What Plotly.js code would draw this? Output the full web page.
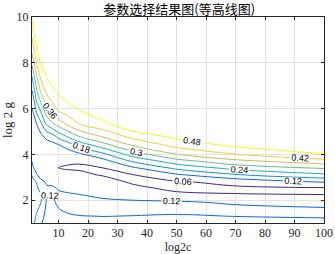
<!DOCTYPE html>
<html>
<head>
<meta charset="utf-8">
<script src="https://cdn.plot.ly/plotly-3.0.1.min.js"></script>
<style>html,body{margin:0;padding:0;background:#fff;}#chart{width:335px;height:254px;}</style>
</head>
<body>
<div id="chart"></div>
<script>
// log2c grid (columns) and log2g grid (rows)
const log2c = [1, 1.5, 2.5, 4, 6, 8, 10, 13, 17, 25, 35, 50, 70, 100];
const log2g = [1, 1.3, 1.6, 1.9, 2.2, 2.5, 2.8, 3.1, 3.4, 3.7, 4.0, 4.4, 4.8, 5.3, 5.9, 6.6, 7.4, 8.3, 9.2, 10];

// z values read column by column (one array per log2c value, along log2g)
const zC1   = [0.2, 0.2, 0.205, 0.21, 0.21, 0.21, 0.2, 0.178, 0.145, 0.118, 0.105, 0.095, 0.095, 0.1, 0.115, 0.16, 0.24, 0.35, 0.43, 0.485];
const zC1_5 = [0.19, 0.195, 0.2, 0.205, 0.205, 0.2, 0.19, 0.165, 0.122, 0.105, 0.095, 0.09, 0.09, 0.097, 0.125, 0.19, 0.28, 0.38, 0.465, 0.53];
const zC2_5 = [0.16, 0.175, 0.19, 0.195, 0.195, 0.19, 0.178, 0.125, 0.105, 0.095, 0.09, 0.087, 0.093, 0.115, 0.19, 0.27, 0.35, 0.45, 0.52, 0.57];
const zC4   = [0.125, 0.14, 0.16, 0.182, 0.183, 0.165, 0.13, 0.105, 0.093, 0.087, 0.085, 0.088, 0.105, 0.165, 0.245, 0.35, 0.435, 0.51, 0.56, 0.6];
const zC6   = [0.1, 0.103, 0.107, 0.112, 0.118, 0.125, 0.115, 0.1, 0.088, 0.082, 0.08, 0.09, 0.14, 0.245, 0.34, 0.418, 0.485, 0.54, 0.58, 0.62];
const zC8   = [0.098, 0.1, 0.105, 0.112, 0.119, 0.127, 0.11, 0.09, 0.07, 0.072, 0.08, 0.1, 0.16, 0.285, 0.385, 0.455, 0.52, 0.57, 0.61, 0.64];
const zC10  = [0.1, 0.107, 0.118, 0.13, 0.128, 0.117, 0.105, 0.085, 0.059, 0.07, 0.093, 0.115, 0.204, 0.32, 0.424, 0.484, 0.54, 0.58, 0.62, 0.64];
const zC13  = [0.1, 0.112, 0.13, 0.133, 0.126, 0.112, 0.1, 0.08, 0.054, 0.068, 0.094, 0.14, 0.25, 0.363, 0.45, 0.505, 0.55, 0.6, 0.63, 0.65];
const zC17  = [0.1, 0.118, 0.138, 0.13, 0.122, 0.11, 0.095, 0.075, 0.052, 0.066, 0.108, 0.2, 0.305, 0.418, 0.478, 0.53, 0.58, 0.62, 0.65, 0.66];
const zC25  = [0.1, 0.121, 0.135, 0.127, 0.115, 0.105, 0.09, 0.055, 0.059, 0.095, 0.165, 0.274, 0.37, 0.4575, 0.53, 0.58, 0.62, 0.64, 0.66, 0.67];
const zC35  = [0.1, 0.119, 0.135, 0.128, 0.103, 0.08, 0.05, 0.057, 0.107, 0.186, 0.266, 0.364, 0.441, 0.53, 0.57, 0.6, 0.63, 0.65, 0.66, 0.67];
const zC50  = [0.1, 0.115, 0.135, 0.128, 0.0797, 0.045, 0.055, 0.11, 0.194, 0.275, 0.358, 0.44, 0.5, 0.55, 0.59, 0.62, 0.64, 0.65, 0.66, 0.67];
const zC70  = [0.1, 0.121, 0.135, 0.1125, 0.064, 0.05, 0.075, 0.174, 0.26, 0.343, 0.418, 0.493, 0.55, 0.6, 0.63, 0.64, 0.65, 0.66, 0.66, 0.67];
const zC100 = [0.1, 0.127, 0.13, 0.0925, 0.062, 0.048, 0.125, 0.228, 0.305, 0.397, 0.475, 0.56, 0.6, 0.62, 0.63, 0.64, 0.65, 0.65, 0.66, 0.66];

const contourLevels = [0.06, 0.12, 0.18, 0.24, 0.3, 0.36, 0.42, 0.48];
const xTicks = [10, 20, 30, 40, 50, 60, 70, 80, 90, 100];
const yTicks = [2, 4, 6, 8, 10];

// build z[row][col] table for the library
const columns = [zC1, zC1_5, zC2_5, zC4, zC6, zC8, zC10, zC13, zC17, zC25, zC35, zC50, zC70, zC100];
const zTable = log2g.map((_, r) => columns.map(col => col[r]));

const parula = [
  [0.0, '#352a87'], [0.125, '#0363e1'], [0.25, '#1485d4'], [0.375, '#06a7c6'],
  [0.5, '#38b99e'], [0.625, '#92bf73'], [0.75, '#d9ba56'], [0.875, '#fcce2e'], [1.0, '#f9fb0e']
];

const lvStep = contourLevels[1] - contourLevels[0];
const trace = {
  type: 'contour',
  x: log2c, y: log2g, z: zTable,
  autocontour: false,
  contours: {
    start: contourLevels[0],
    end: contourLevels[contourLevels.length - 1] + 0.001,
    size: lvStep,
    coloring: 'lines',
    showlabels: true,
    labelformat: '.2~f',
    labelfont: {family: 'Liberation Sans, Arial, sans-serif', size: 9, color: '#000'}
  },
  line: {width: 1, smoothing: 1},
  colorscale: parula,
  zauto: false, zmin: contourLevels[0], zmax: contourLevels[contourLevels.length - 1],
  showscale: false,
  hoverinfo: 'skip'
};

const axisCommon = {
  showline: true, linecolor: '#262626', linewidth: 1, mirror: 'ticks',
  ticks: 'inside', ticklen: 3, tickcolor: '#262626',
  showgrid: true, gridcolor: '#e3e3e3', gridwidth: 1, zeroline: false,
  tickfont: {family: 'Liberation Serif, Times New Roman, serif', size: 12, color: '#262626'}
};

const layout = {
  width: 335, height: 254,
  margin: {l: 32, r: 11, t: 17, b: 31, pad: 0},
  paper_bgcolor: '#fff', plot_bgcolor: '#fff',
  showlegend: false,
  title: {
    text: '参数选择结果图(等高线图)',
    font: {family: 'Noto Sans CJK SC, sans-serif', size: 13, color: '#000'},
    x: 0.535, xanchor: 'center', y: 0.962, yref: 'container', yanchor: 'middle'
  },
  xaxis: Object.assign({}, axisCommon, {
    range: [1, 100], tickvals: xTicks, ticktext: xTicks.map(String),
    ticklabelstandoff: -1,
    title: {text: 'log2c', font: {family: 'Liberation Serif, serif', size: 12, color: '#262626'}, standoff: 1}
  }),
  yaxis: Object.assign({}, axisCommon, {
    range: [1, 10], tickvals: yTicks, ticktext: yTicks.map(String),
    title: {text: 'log 2 g', font: {family: 'Liberation Serif, serif', size: 13, color: '#262626'}, standoff: 6}
  })
};

Plotly.newPlot('chart', [trace], layout, {staticPlot: true, displayModeBar: false});
</script>
</body>
</html>
